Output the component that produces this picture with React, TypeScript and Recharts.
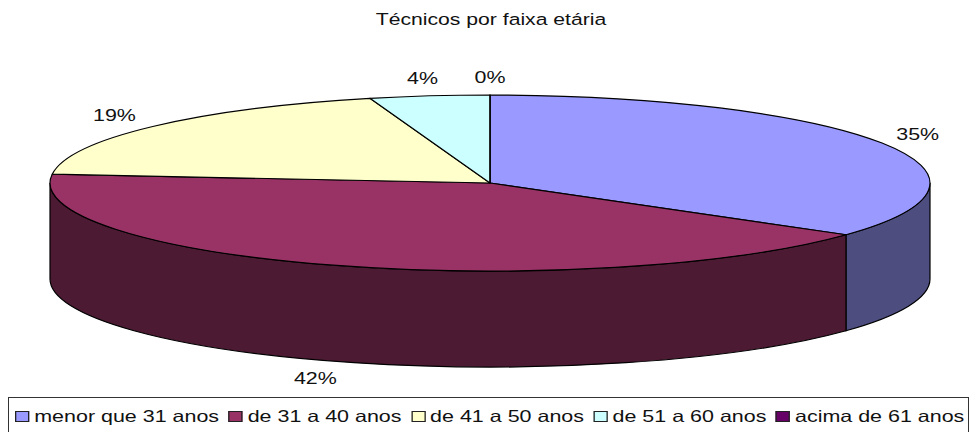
import React from 'react';
import { PieChart, Pie, Legend } from 'recharts';

const TITLE = 'Técnicos por faixa etária';
const CATEGORIES = ['menor que 31 anos', 'de 31 a 40 anos', 'de 41 a 50 anos', 'de 51 a 60 anos', 'acima de 61 anos'];
const VALUES = [35, 41.6, 19, 4.4, 0];
const COLORS = ['#9999ff', '#993366', '#ffffcc', '#ccffff', '#660066'];
const WALL_COLORS = ['#4d4d80', '#4d1a33', '#80806a', '#6a8080', '#330033'];

const FONT = '"Liberation Sans", Arial, sans-serif';
const TEXT_STRETCH = 1.3; // the original text is wider than it is tall
const TILT = 0.2; // ellipse height / width
const DEPTH = 96;

const data = CATEGORIES.map((name, i) => ({ name, value: VALUES[i], fill: COLORS[i], wall: WALL_COLORS[i] }));

const rad = (a: number) => (a * Math.PI) / 180;

// Sector drawn flattened: the library gives the angles, we squash the circle into an ellipse
const Slice3D = (props: any) => {
  const { cx, cy, outerRadius, startAngle, endAngle, fill, wall } = props;
  const rx = outerRadius;
  const ry = outerRadius * TILT;
  const px = (a: number) => cx + rx * Math.cos(rad(a));
  const py = (a: number) => cy - ry * Math.sin(rad(a));

  const large = startAngle - endAngle > 180 ? 1 : 0;
  const top = `M${cx},${cy} L${px(startAngle)},${py(startAngle)} A${rx},${ry} 0 ${large} 1 ${px(endAngle)},${py(endAngle)} Z`;

  // only the part of the rim facing the viewer gets a wall
  const wallStart = Math.min(startAngle, 0);
  const wallEnd = Math.max(endAngle, -180);
  const hasWall = wallStart > wallEnd;
  const side = `M${px(wallStart)},${py(wallStart)} A${rx},${ry} 0 0 1 ${px(wallEnd)},${py(wallEnd)} L${px(wallEnd)},${py(wallEnd) + DEPTH} A${rx},${ry} 0 0 0 ${px(wallStart)},${py(wallStart) + DEPTH} Z`;

  return (
    <g>
      {hasWall && <path d={side} fill={wall} stroke="#000" strokeWidth={1.2} />}
      <path d={top} fill={fill} stroke="#000" strokeWidth={1.2} strokeLinejoin="round" />
    </g>
  );
};

const renderLabel = (props: any) => {
  const { cx, cy, outerRadius, midAngle, percent } = props;
  const sin = Math.sin(rad(midAngle));
  const cos = Math.cos(rad(midAngle));
  const x = cx + (outerRadius + (cos > 0 ? 40 : 50)) * cos;
  const y = cy - (outerRadius * TILT + 18) * sin + (sin < 0 ? DEPTH : 0);
  return (
    <text
      transform={`translate(${x},${y}) scale(${TEXT_STRETCH},1)`}
      textAnchor="middle"
      dominantBaseline="central"
      fontFamily={FONT}
      fontSize={16.5}
      fill="#111"
    >
      {`${Math.round(percent * 100)}%`}
    </text>
  );
};

const renderLegend = ({ payload }: any) => (
  <div
    style={{
      boxSizing: 'border-box',
      width: 961,
      height: 38,
      border: '1px solid #333',
      background: '#fff',
      paddingLeft: 6,
      fontFamily: FONT,
      fontSize: 16.5,
      color: '#111',
      whiteSpace: 'nowrap',
    }}
  >
    <div
      style={{
        display: 'flex',
        alignItems: 'center',
        height: 37,
        transform: `scaleX(${TEXT_STRETCH})`,
        transformOrigin: 'left center',
      }}
    >
      {(payload || []).map((entry: any) => (
        <span key={entry.value} style={{ display: 'flex', alignItems: 'center', marginRight: 7.2 }}>
          <span style={{ width: 9, height: 9, background: entry.color, border: '1px solid #222', marginRight: 3.8 }} />
          {entry.value}
        </span>
      ))}
    </div>
  </div>
);

export default function App() {
  return (
    <div style={{ position: 'absolute', left: 0, top: 0, width: 970, height: 432, overflow: 'hidden', background: '#fff' }}>
      <div
        style={{
          position: 'absolute',
          top: 10,
          left: 0,
          width: 982,
          textAlign: 'center',
          fontFamily: FONT,
          fontSize: 16.3,
          color: '#111',
          transform: `scaleX(${TEXT_STRETCH})`,
        }}
      >
        {TITLE}
      </div>
      <PieChart
        width={970}
        height={432}
        margin={{ top: 0, right: 0, bottom: 0, left: 0 }}
        style={{ position: 'absolute', left: 0, top: 0 }}
      >
        <Pie
          data={data}
          dataKey="value"
          nameKey="name"
          cx={490}
          cy={183}
          outerRadius={440}
          startAngle={90}
          endAngle={-270}
          stroke="#000"
          label={renderLabel}
          labelLine={false}
          shape={Slice3D}
          isAnimationActive={false}
        />
        <Legend
          content={renderLegend}
          itemSorter={null}
          wrapperStyle={{ left: 8, top: 397, bottom: 'auto', width: 961 }}
        />
      </PieChart>
    </div>
  );
}
